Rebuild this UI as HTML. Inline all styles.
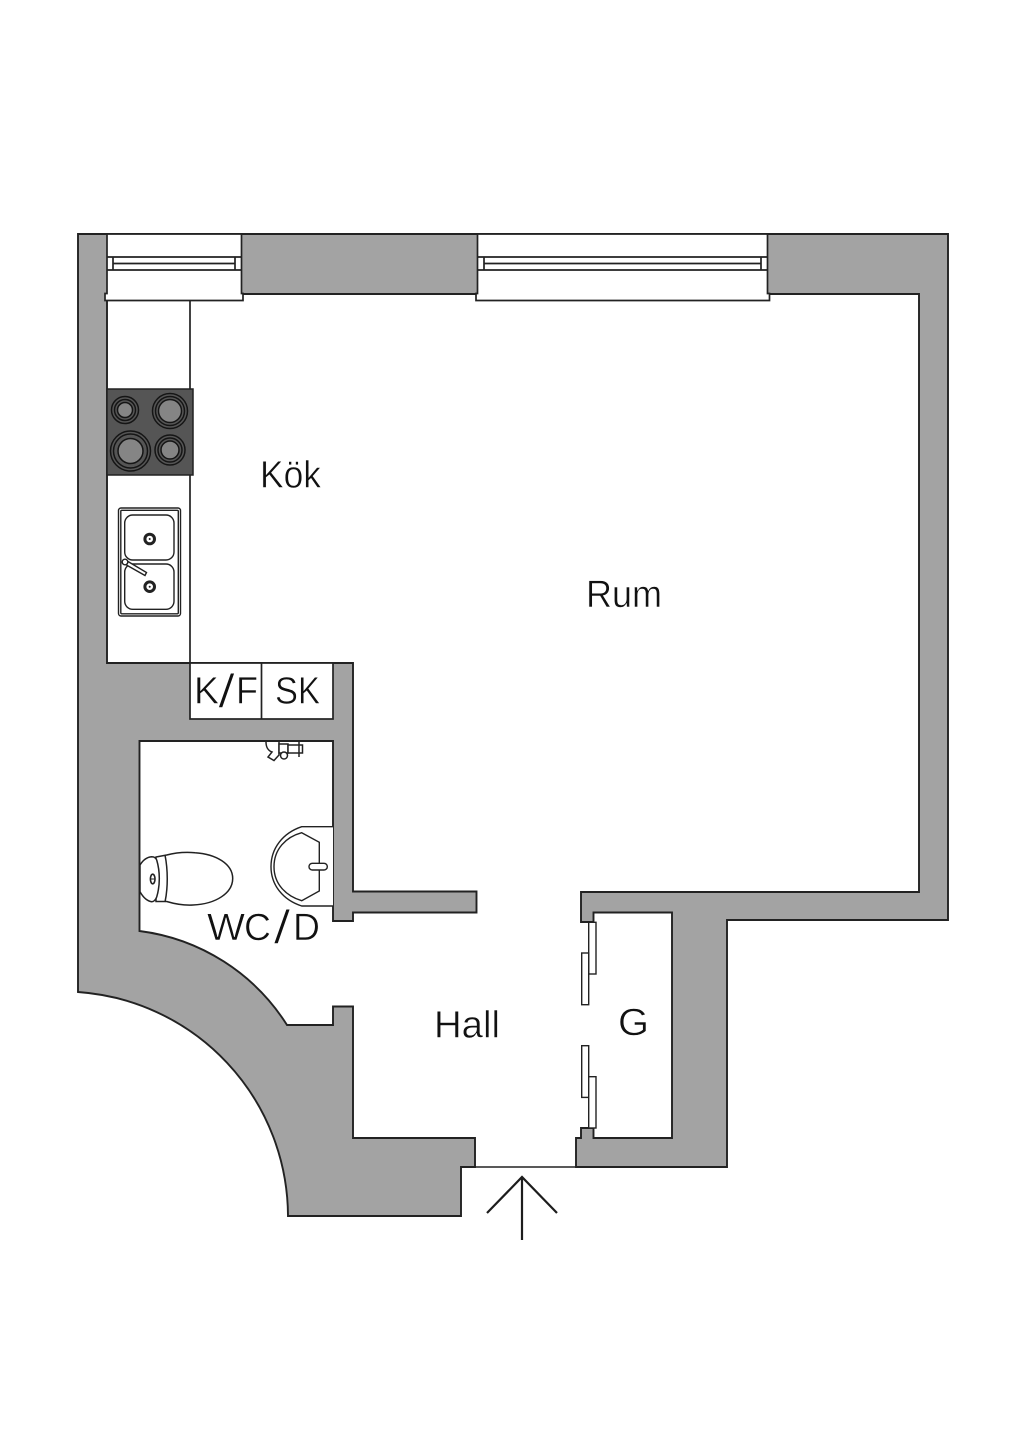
<!DOCTYPE html>
<html lang="sv">
<head>
<meta charset="utf-8">
<title>Planritning</title>
<style>
html,body{margin:0;padding:0;background:#fff;width:1024px;height:1448px;overflow:hidden}
svg{display:block}
text{font-family:"Liberation Sans",sans-serif;font-size:38px;fill:#111;stroke:#fff;stroke-width:.55}
text.s{font-size:47px;stroke-width:1.1}
</style>
</head>
<body>
<svg width="1024" height="1448" viewBox="0 0 1024 1448" xmlns="http://www.w3.org/2000/svg">
<rect width="1024" height="1448" fill="#fff"/>

<!-- walls -->
<path d="M78,234 H948 V920 H727 V1167 H576 V1138 H581 V1128 H593.5 V1138 H672 V912.5 H593.5 V922 H581 V892 H919 V294 H107 V663 H353 V891.5 H476.5 V912.5 H353 V921 H333 V741 H139.5 V931 A205,205 0 0 1 287,1025 H333 V1006.5 H353 V1138 H475 V1167 H461 V1216 H288 A225.5,225.5 0 0 0 78,992 Z" fill="#a3a3a3" stroke="#222" stroke-width="1.9" stroke-linejoin="miter"/>

<!-- left window -->
<g stroke="#222" stroke-width="1.7" fill="#fff">
<path d="M107,234 H241.5 V293.5 H243 V300.5 H105 V293.5 H107 Z"/>
<path d="M107,257 H241.5 M107,270 H241.5 M113,263.5 H235 M113,257 V270 M235,257 V270" fill="none"/>
</g>

<!-- right window -->
<g stroke="#222" stroke-width="1.7" fill="#fff">
<path d="M477.5,234 H767.5 V293.5 H769.5 V300.5 H476 V293.5 H477.5 Z"/>
<path d="M477.5,257 H767.5 M477.5,270 H767.5 M484,263.5 H761 M484,257 V270 M761,257 V270" fill="none"/>
</g>

<!-- counter -->
<path d="M190,300 V663" stroke="#222" stroke-width="1.7" fill="none"/>

<!-- stove -->
<rect x="107" y="389" width="86" height="86" fill="#555" stroke="#222" stroke-width="1.5"/>
<g stroke="#151515" stroke-width="1.5" fill="#555">
<circle cx="125" cy="410" r="13.5"/><circle cx="125" cy="410" r="10.5"/><circle cx="125" cy="410" r="7.5" fill="#858585"/>
<circle cx="170" cy="411" r="17.5"/><circle cx="170" cy="411" r="14.5"/><circle cx="170" cy="411" r="11.5" fill="#858585"/>
<circle cx="130.500" cy="451" r="20"/><circle cx="130.500" cy="451" r="17"/><circle cx="130.500" cy="451" r="12.500" fill="#858585"/>
<circle cx="170" cy="450" r="15"/><circle cx="170" cy="450" r="12"/><circle cx="170" cy="450" r="9" fill="#858585"/>
</g>

<!-- kitchen sink -->
<g stroke="#222" stroke-width="1.400" fill="none">
<rect x="118.500" y="508" width="62" height="108" rx="2.500"/>
<rect x="120.800" y="510.300" width="57.500" height="103.500" rx="1"/>
<rect x="124.700" y="515" width="49.300" height="45" rx="8"/>
<rect x="124.700" y="564" width="49.300" height="45.300" rx="8"/>
<circle cx="149.700" cy="539" r="4.800" stroke-width="3"/>
<circle cx="149.700" cy="586.700" r="4.800" stroke-width="3"/>
<circle cx="149.700" cy="539" r="1" fill="#222" stroke="none"/>
<circle cx="149.700" cy="586.700" r="1" fill="#222" stroke="none"/>
<path d="M128,561.500 L146.500,572.500 L145,575.500 L126.500,565 Z" fill="#fff"/>
<circle cx="125" cy="562" r="2.800" fill="#fff"/>
</g>

<!-- closets -->
<rect x="190" y="663" width="143" height="56" fill="#fff" stroke="#222" stroke-width="1.7"/>
<path d="M261.500,663 V719" stroke="#222" stroke-width="1.7"/>

<!-- tap -->
<g stroke="#222" stroke-width="1.500" fill="#fff">
<path d="M266,742 C266,748 269,751 272,752 L268,757 L274,760.500 L279,755 L279,742"/>
<rect x="279" y="744" width="9" height="9"/>
<circle cx="284" cy="755.500" r="3.500"/>
<rect x="288" y="745" width="14.500" height="8"/>
<path d="M299,742 V757" fill="none"/>
</g>

<!-- WC basin -->
<g stroke="#222" stroke-width="1.400" fill="#fff">
<path d="M333,826.700 H301.700 C283,833 271,848 271,866.700 C271,885 283,900 301.700,906 H333"/>
<path d="M301.700,832.700 L319.300,842.300 V891 L301.700,900.700 C286,896 274,884 274,866.700 C274,849 286,837 301.700,832.700 Z"/>
<rect x="309" y="863.300" width="18.300" height="6.700" rx="3.300"/>
</g>

<!-- toilet -->
<g stroke="#222" stroke-width="1.500" fill="#fff">
<path d="M166.700,855 C178,852 187,852 195,852.700 C216,854 232.700,864 232.700,878.500 C232.700,893 216,904 193,905 C183,905.500 175,904 166.700,901.500 L156,901.500 L156,857 Z"/>
<path d="M165,855 C168,870 168,888 165,902" fill="none"/>
<path d="M140,865 C143,860 147,857 151.700,856.700 C154,856.700 156,858 156.700,860 C158.500,866 159.300,872 159.300,878.500 C159.300,885 158.500,891 156.700,897 C155.500,900 154,901.700 151.700,901.700 C147,901 143,897 140,891.700 Z"/>
<ellipse cx="152.700" cy="879" rx="2.300" ry="4.800" stroke-width="1.600"/>
<path d="M150.500,879 H155" fill="none" stroke-width="1"/>
</g>

<!-- wardrobe doors -->
<g stroke="#222" stroke-width="1.400" fill="#fff">
<rect x="588.700" y="922.300" width="7.300" height="51.700"/>
<rect x="581.700" y="953" width="7" height="51.700"/>
<rect x="581.700" y="1045.700" width="7" height="51.700"/>
<rect x="588.700" y="1076.700" width="7.300" height="51.300"/>
</g>

<!-- entry -->
<path d="M475,1167 H576" stroke="#222" stroke-width="1.500"/>
<path d="M487,1213 L522,1177 L557,1213 M522,1177 V1240" stroke="#1d1d1d" stroke-width="2.200" fill="none"/>

<!-- labels -->
<text x="260" y="487.300" textLength="61" lengthAdjust="spacingAndGlyphs">Kök</text>
<text x="586" y="607" textLength="76" lengthAdjust="spacingAndGlyphs">Rum</text>

<text x="194" y="703.300" textLength="25" lengthAdjust="spacingAndGlyphs">K</text>
<text class="s" x="218" y="707.500" textLength="17" lengthAdjust="spacingAndGlyphs">/</text>
<text x="236" y="703.300" textLength="22" lengthAdjust="spacingAndGlyphs">F</text>

<text x="275" y="703.300" textLength="23" lengthAdjust="spacingAndGlyphs">S</text>
<text x="298" y="703.300" textLength="22" lengthAdjust="spacingAndGlyphs">K</text>

<text x="207" y="940" textLength="38" lengthAdjust="spacingAndGlyphs">W</text>
<text x="244" y="940" textLength="27" lengthAdjust="spacingAndGlyphs">C</text>
<text class="s" x="273.500" y="943.500" textLength="17" lengthAdjust="spacingAndGlyphs">/</text>
<text x="293" y="940" textLength="27" lengthAdjust="spacingAndGlyphs">D</text>

<text x="434" y="1037.500" textLength="66" lengthAdjust="spacingAndGlyphs">Hall</text>
<text x="618" y="1035" textLength="31" lengthAdjust="spacingAndGlyphs">G</text>
</svg>
</body>
</html>
